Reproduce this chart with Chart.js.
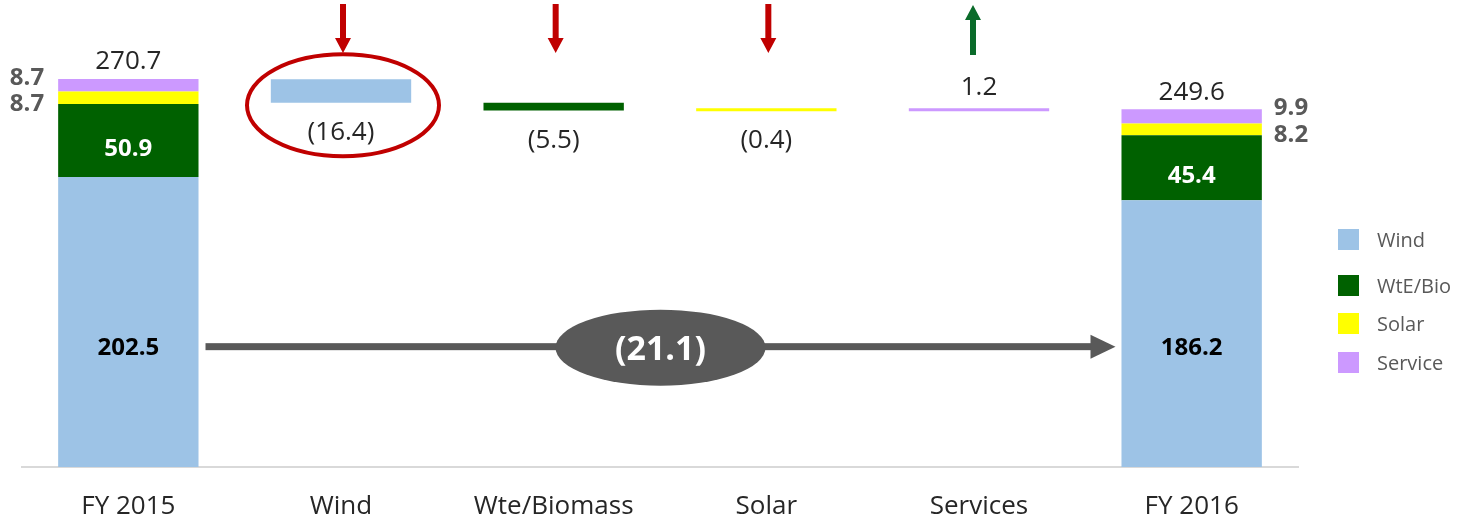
<!DOCTYPE html>
<html><head><meta charset="utf-8">
<script src="https://cdn.jsdelivr.net/npm/chart.js@4"></script>
<style>
html,body{margin:0;padding:0;background:#fff;overflow:hidden;}
#wrap{position:relative;width:1460px;height:522px;}
#c{display:block;}
#legend{position:absolute;left:1338px;top:0;width:122px;height:522px;font-family:'Open Sans',sans-serif;font-size:20px;color:#595959;}
.li{position:absolute;left:0;height:22px;display:flex;align-items:center;white-space:nowrap;}
.sw{width:21px;height:21px;margin-right:18px;flex:none;}
</style></head>
<body><div id="wrap"><canvas id="c" width="1460" height="522"></canvas><div id="legend"></div></div>
<script>
const categories = ['FY 2015','Wind','Wte/Biomass','Solar','Services','FY 2016'];
const segments = ['Wind','WtE/Bio','Solar','Service'];
const fy2015Values = [202.5, 50.9, 8.7, 8.7];
const fy2016Values = [186.2, 45.4, 8.2, 9.9];
const changeValues = [-16.4, -5.5, -0.4, 1.2];
const totalValues = [270.7, 249.6];
const netChange = -21.1;
const colors = ['#9DC3E6','#006100','#FFFF00','#CC99FF'];

const FONT = "'Open Sans', sans-serif";
const fmt = v => v < 0 ? '(' + Math.abs(v).toFixed(1) + ')' : v.toFixed(1);

function stackRanges(vals){ let s = 0; return vals.map(v => { const r = [s, s + v]; s += v; return r; }); }
const r15 = stackRanges(fy2015Values), r16 = stackRanges(fy2016Values);
let run = totalValues[0];
const changeRanges = changeValues.map(v => { const r = [Math.min(run, run + v), Math.max(run, run + v)]; run += v; return r; });

const datasets = segments.map((name, i) => {
  const data = categories.map(() => null);
  data[0] = r15[i]; data[5] = r16[i]; data[i + 1] = changeRanges[i];
  return { label: name, data, backgroundColor: colors[i], borderWidth: 0, grouped: false,
           barPercentage: 0.66, categoryPercentage: 1, minBarLength: 3 };
});

// HTML legend
const legendY = [239, 285, 323, 362];
const lg = document.getElementById('legend');
segments.forEach((s, i) => {
  const d = document.createElement('div'); d.className = 'li'; d.style.top = (legendY[i] - 11) + 'px';
  const sw = document.createElement('span'); sw.className = 'sw'; sw.style.background = colors[i];
  const t = document.createElement('span'); t.textContent = s;
  d.appendChild(sw); d.appendChild(t); lg.appendChild(d);
});

function txt(ctx, s, x, cy, size, weight, color, align){
  ctx.font = weight + ' ' + size + 'px ' + FONT;
  ctx.fillStyle = color; ctx.textAlign = align || 'center'; ctx.textBaseline = 'alphabetic';
  ctx.fillText(s, x, cy + 0.357 * size);
}
function arrowV(ctx, x, y0, y1, color, up){
  ctx.fillStyle = color;
  const hw = 8, hl = 15, sw = 3;
  ctx.beginPath();
  if (!up){
    ctx.rect(x - sw, y0, 2 * sw, (y1 - hl) - y0);
    ctx.moveTo(x - hw, y1 - hl); ctx.lineTo(x + hw, y1 - hl); ctx.lineTo(x, y1); ctx.closePath();
  } else {
    ctx.rect(x - sw, y0 + hl, 2 * sw, y1 - (y0 + hl));
    ctx.moveTo(x - hw, y0 + hl); ctx.lineTo(x + hw, y0 + hl); ctx.lineTo(x, y0); ctx.closePath();
  }
  ctx.fill();
}

const annot = {
  id: 'annot',
  afterDatasetsDraw(chart, args, opts){
    const ctx = chart.ctx, ys = chart.scales.y;
    const m = [0,1,2,3].map(i => chart.getDatasetMeta(i).data);
    const arrowY = ys.getPixelForValue(opts.arrowLevel);
    ctx.save();
    [[0, fy2015Values, totalValues[0], -1], [5, fy2016Values, totalValues[1], 1]].forEach(([ci, vals, tot, side]) => {
      const w = m[0][ci], g = m[1][ci], s = m[2][ci], p = m[3][ci];
      txt(ctx, tot.toFixed(1), w.x, p.y - 19, 26, 'normal', '#262626');
      txt(ctx, vals[0].toFixed(1), w.x, arrowY, 24, 'bold', '#000000');
      txt(ctx, vals[1].toFixed(1), g.x, (g.y + g.base) / 2 + 7, 24, 'bold', '#FFFFFF');
      const sx = side < 0 ? w.x - w.width / 2 - 14 : w.x + w.width / 2 + 12;
      const al = side < 0 ? 'right' : 'left';
      txt(ctx, vals[3].toFixed(1), sx, p.y - 3, 24, 'bold', '#595959', al);
      txt(ctx, vals[2].toFixed(1), sx, s.base - 2, 24, 'bold', '#595959', al);
    });
    changeValues.forEach((v, i) => {
      const el = m[i][i + 1];
      if (v < 0) txt(ctx, fmt(v), el.x, el.base + 28, 26, 'normal', '#262626');
      else txt(ctx, fmt(v), el.x, el.y - 22, 26, 'normal', '#262626');
      if (v < 0) arrowV(ctx, el.x + 2, 4, 53, '#C00000', false);
      else arrowV(ctx, el.x - 6, 5, 55, '#0A6B2A', true);
    });
    const we = m[0][1];
    ctx.beginPath();
    ctx.ellipse(we.x + 2, we.y + 26, 96, 51, 0, 0, Math.PI * 2);
    ctx.lineWidth = 4; ctx.strokeStyle = '#C00000'; ctx.stroke();
    const a = m[0][0], b = m[0][5];
    const x0 = a.x + a.width / 2 + 7, x1 = b.x - b.width / 2 - 6;
    ctx.fillStyle = '#595959';
    ctx.fillRect(x0, arrowY - 3.5, (x1 - 24) - x0, 7);
    ctx.beginPath(); ctx.moveTo(x1 - 25, arrowY - 12); ctx.lineTo(x1, arrowY); ctx.lineTo(x1 - 25, arrowY + 12); ctx.closePath(); ctx.fill();
    const cx = (x0 + x1) / 2;
    ctx.beginPath(); ctx.ellipse(cx, arrowY + 1, 105, 38, 0, 0, Math.PI * 2); ctx.fill();
    txt(ctx, fmt(netChange), cx, arrowY + 1, 34, 'bold', '#FFFFFF');
    ctx.restore();
  }
};

new Chart(document.getElementById('c'), {
  type: 'bar',
  data: { labels: categories, datasets },
  options: {
    responsive: false, maintainAspectRatio: false, animation: false, devicePixelRatio: 1,
    layout: { padding: { left: 22, right: 162, top: 0, bottom: 0 } },
    plugins: { legend: { display: false }, tooltip: { enabled: false }, annot: { arrowLevel: 84 } },
    scales: {
      x: { grid: { display: false, drawTicks: false }, border: { display: true, color: '#D9D9D9', width: 2 },
           afterFit: s => { s.height = 55; },
           ticks: { padding: 24, color: '#262626', font: { family: FONT, size: 26, lineHeight: 1.2 } } },
      y: { display: false, min: 0, max: 326 }
    }
  },
  plugins: [annot]
});
</script></body></html>
